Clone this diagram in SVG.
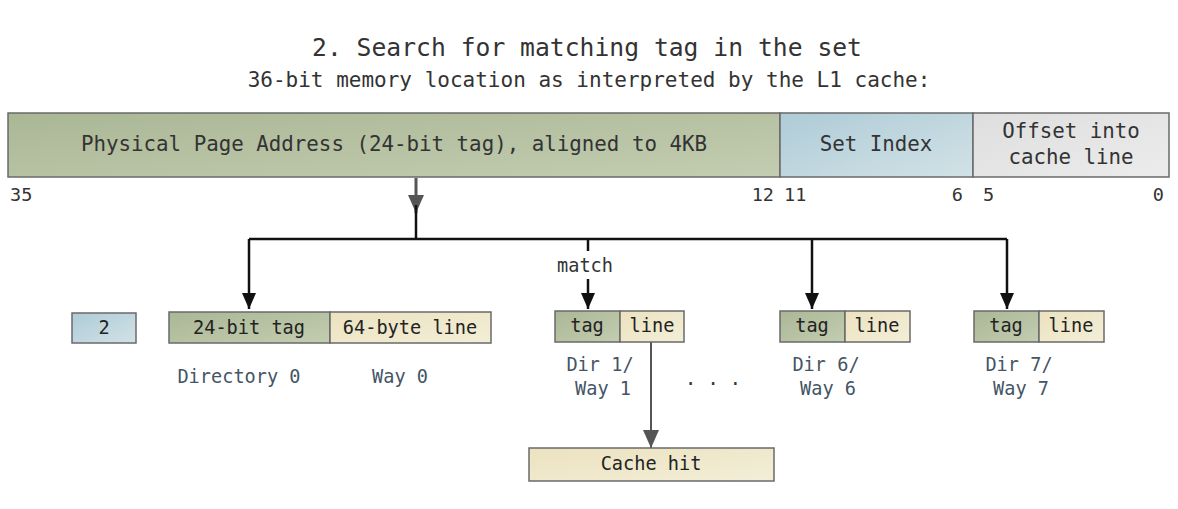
<svg xmlns="http://www.w3.org/2000/svg" width="1178" height="509" viewBox="0 0 1178 509">
<defs>
<linearGradient id="gGreen" x1="0" y1="0" x2="1" y2="1"><stop offset="0" stop-color="#aab795"/><stop offset="1" stop-color="#c3cdb1"/></linearGradient>
<linearGradient id="gBlue" x1="0" y1="0" x2="1" y2="1"><stop offset="0" stop-color="#aecbd7"/><stop offset="1" stop-color="#d2e2e6"/></linearGradient>
<linearGradient id="gGrey" x1="0" y1="0" x2="1" y2="1"><stop offset="0" stop-color="#dedede"/><stop offset="1" stop-color="#ececec"/></linearGradient>
<linearGradient id="gCream" x1="0" y1="0" x2="1" y2="1"><stop offset="0" stop-color="#ebe2bf"/><stop offset="1" stop-color="#f3eed8"/></linearGradient>
<marker id="aBlack" markerWidth="16" markerHeight="14" refX="16" refY="7" orient="auto" markerUnits="userSpaceOnUse" viewBox="0 0 16 14"><path d="M0,0 L16,7 L0,14 Z" fill="#111"/></marker>
<marker id="aGrey" markerWidth="18" markerHeight="16" refX="18" refY="8" orient="auto" markerUnits="userSpaceOnUse" viewBox="0 0 18 16"><path d="M0,0 L18,8 L0,16 Z" fill="#555"/></marker>
</defs>
<style>
text{font-family:"DejaVu Sans Mono","Liberation Mono",monospace;fill:#333}
.box{stroke:#6a6a6a;stroke-width:1.5}
.bar{font-size:20.8px;text-anchor:middle}
.bit{font-size:18.5px;fill:#333}
.cell{font-size:18.6px;text-anchor:middle;fill:#222}
.lbl{font-size:18.6px;text-anchor:middle;fill:#456}
.conn{fill:none;stroke:#111;stroke-width:2.5}
</style>
<rect width="1178" height="509" fill="#fff"/>
<text x="587" y="56" font-size="24.7" text-anchor="middle">2. Search for matching tag in the set</text>
<text x="589" y="87" font-size="21" text-anchor="middle">36-bit memory location as interpreted by the L1 cache:</text>

<g id="address">
<rect class="box" x="8" y="113" width="772" height="64" fill="url(#gGreen)"/>
<rect class="box" x="780" y="113" width="193" height="64" fill="url(#gBlue)"/>
<rect class="box" x="973" y="113" width="196" height="64" fill="url(#gGrey)"/>
<text class="bar" x="394" y="151">Physical Page Address (24-bit tag), aligned to 4KB</text>
<text class="bar" x="876" y="151">Set Index</text>
<text class="bar" x="1071" y="138">Offset into</text>
<text class="bar" x="1071" y="164">cache line</text>
<text class="bit" x="10" y="201">35</text>
<text class="bit" x="774" y="201" text-anchor="end">12</text>
<text class="bit" x="784" y="201">11</text>
<text class="bit" x="963" y="201" text-anchor="end">6</text>
<text class="bit" x="983" y="201">5</text>
<text class="bit" x="1164" y="201" text-anchor="end">0</text>
</g>

<g id="connectors">
<line x1="416" y1="178" x2="416" y2="213" stroke="#555" stroke-width="3" marker-end="url(#aGrey)"/>
<path class="conn" d="M416,205 V239 M249,239 H1007"/>
<path class="conn" d="M249,239 V309" marker-end="url(#aBlack)"/>
<path class="conn" d="M812,239 V309" marker-end="url(#aBlack)"/>
<path class="conn" d="M1007,239 V309" marker-end="url(#aBlack)"/>
<path class="conn" d="M588,239 V251"/>
<path class="conn" d="M588,279 V309" marker-end="url(#aBlack)"/>
<line x1="651" y1="342" x2="651" y2="448" stroke="#555" stroke-width="2" marker-end="url(#aGrey)"/>
</g>
<text x="585" y="272" font-size="18.6" text-anchor="middle" fill="#222">match</text>

<g id="set2">
<rect class="box" x="72" y="313" width="64" height="30" fill="url(#gBlue)"/>
<text class="cell" x="104" y="334">2</text>
</g>
<g id="way0">
<rect class="box" x="169" y="312" width="161" height="31" fill="url(#gGreen)"/>
<rect class="box" x="330" y="312" width="161" height="31" fill="url(#gCream)"/>
<text class="cell" x="249" y="334">24-bit tag</text>
<text class="cell" x="410" y="334">64-byte line</text>
<text class="lbl" x="239" y="383">Directory 0</text>
<text class="lbl" x="400" y="383">Way 0</text>
</g>
<g id="way1">
<rect class="box" x="555" y="311" width="65" height="31" fill="url(#gGreen)"/>
<rect class="box" x="620" y="311" width="64" height="31" fill="url(#gCream)"/>
<text class="cell" x="587" y="332">tag</text>
<text class="cell" x="652" y="332">line</text>
<text class="lbl" x="600" y="371">Dir 1/</text>
<text class="lbl" x="603" y="395">Way 1</text>
</g>
<text x="713" y="385" font-size="18.6" text-anchor="middle" fill="#333">. . .</text>
<g id="way6">
<rect class="box" x="780" y="311" width="65" height="31" fill="url(#gGreen)"/>
<rect class="box" x="845" y="311" width="65" height="31" fill="url(#gCream)"/>
<text class="cell" x="812" y="332">tag</text>
<text class="cell" x="877" y="332">line</text>
<text class="lbl" x="826" y="371">Dir 6/</text>
<text class="lbl" x="828" y="395">Way 6</text>
</g>
<g id="way7">
<rect class="box" x="974" y="311" width="65" height="31" fill="url(#gGreen)"/>
<rect class="box" x="1039" y="311" width="65" height="31" fill="url(#gCream)"/>
<text class="cell" x="1006" y="332">tag</text>
<text class="cell" x="1071" y="332">line</text>
<text class="lbl" x="1019" y="371">Dir 7/</text>
<text class="lbl" x="1021" y="395">Way 7</text>
</g>
<g id="cachehit">
<rect class="box" x="529" y="448" width="245" height="33" fill="url(#gCream)"/>
<text class="cell" x="651" y="470">Cache hit</text>
</g>
</svg>
